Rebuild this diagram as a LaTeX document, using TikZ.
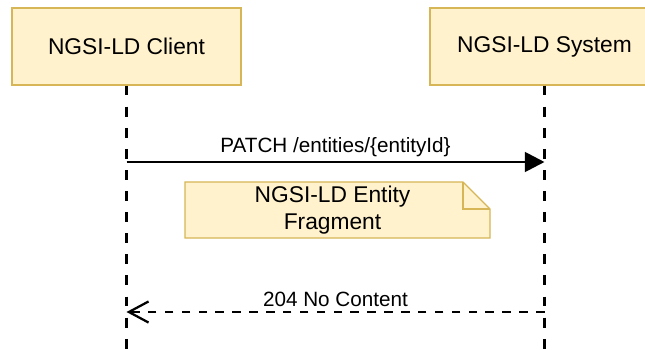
\documentclass[tikz,border=0pt]{standalone}
\usepackage{fontspec}
\setmainfont{Liberation Sans}
\usepackage{xcolor}
\usepackage{tikz}
\usetikzlibrary{arrows.meta, positioning, backgrounds}
\definecolor{boxfill}{HTML}{FFF2CC}
\definecolor{boxline}{HTML}{D6B656}

\begin{document}
\begin{tikzpicture}[
    x=0.025cm, y=-0.025cm,
    actor/.style={rectangle, draw=boxline, fill=boxfill, line width=0.9pt, minimum width=5.725cm, minimum height=1.925cm, font=\fontsize{16.2}{19.4}\selectfont},
    notebox/.style={rectangle, minimum width=7.625cm, minimum height=1.4cm, align=center, inner sep=0pt, font=\fontsize{16.2}{19.2}\selectfont},
    lifeline/.style={line width=2pt, dash pattern=on 7pt off 8pt},
    msg/.style={line width=2pt, -{Triangle[length=14pt, width=14pt]}},
    reply/.style={line width=2pt, dash pattern=on 6pt off 6pt, -{Straight Barb[length=14pt, width=15pt, line width=1.6pt]}},
    lbl/.style={above, inner sep=3pt, font=\fontsize{14.7}{17}\selectfont}
]
    \useasboundingbox (0,0) rectangle (645,349);
    \clip (0,0) rectangle (645,349);
    \node [actor] (client) at (126.5,46.5) {NGSI-LD Client};
    \node [actor] (system) at (544.5,46.5) {NGSI-LD System};
    \coordinate (clientEnd) at (126.5,349);
    \coordinate (systemEnd) at (544.5,349);
    \draw [lifeline] (client) -- (clientEnd);
    \draw [lifeline] (system) -- (systemEnd);
    % request
    \coordinate (patchY) at (0,162);
    \draw [msg] (client |- patchY) -- node[lbl] {PATCH /entities/\{entityId\}} (system |- patchY);
    % payload note
    \node [notebox] (frag) at (332.5,210) {NGSI-LD Entity\\Fragment};
    \begin{scope}[on background layer]
        \draw [draw=boxline, fill=boxfill, line width=0.9pt]
            (185,182) -- (463,182) -- (490,209) -- (490,238) -- (185,238) -- cycle;
        \draw [draw=boxline, line width=0.9pt] (463,182) -- (463,209) -- (490,209);
    \end{scope}
    % response
    \coordinate (replyY) at (0,312);
    \draw [reply] (system |- replyY) -- node[lbl] {204 No Content} (client |- replyY);
\end{tikzpicture}
\end{document}
